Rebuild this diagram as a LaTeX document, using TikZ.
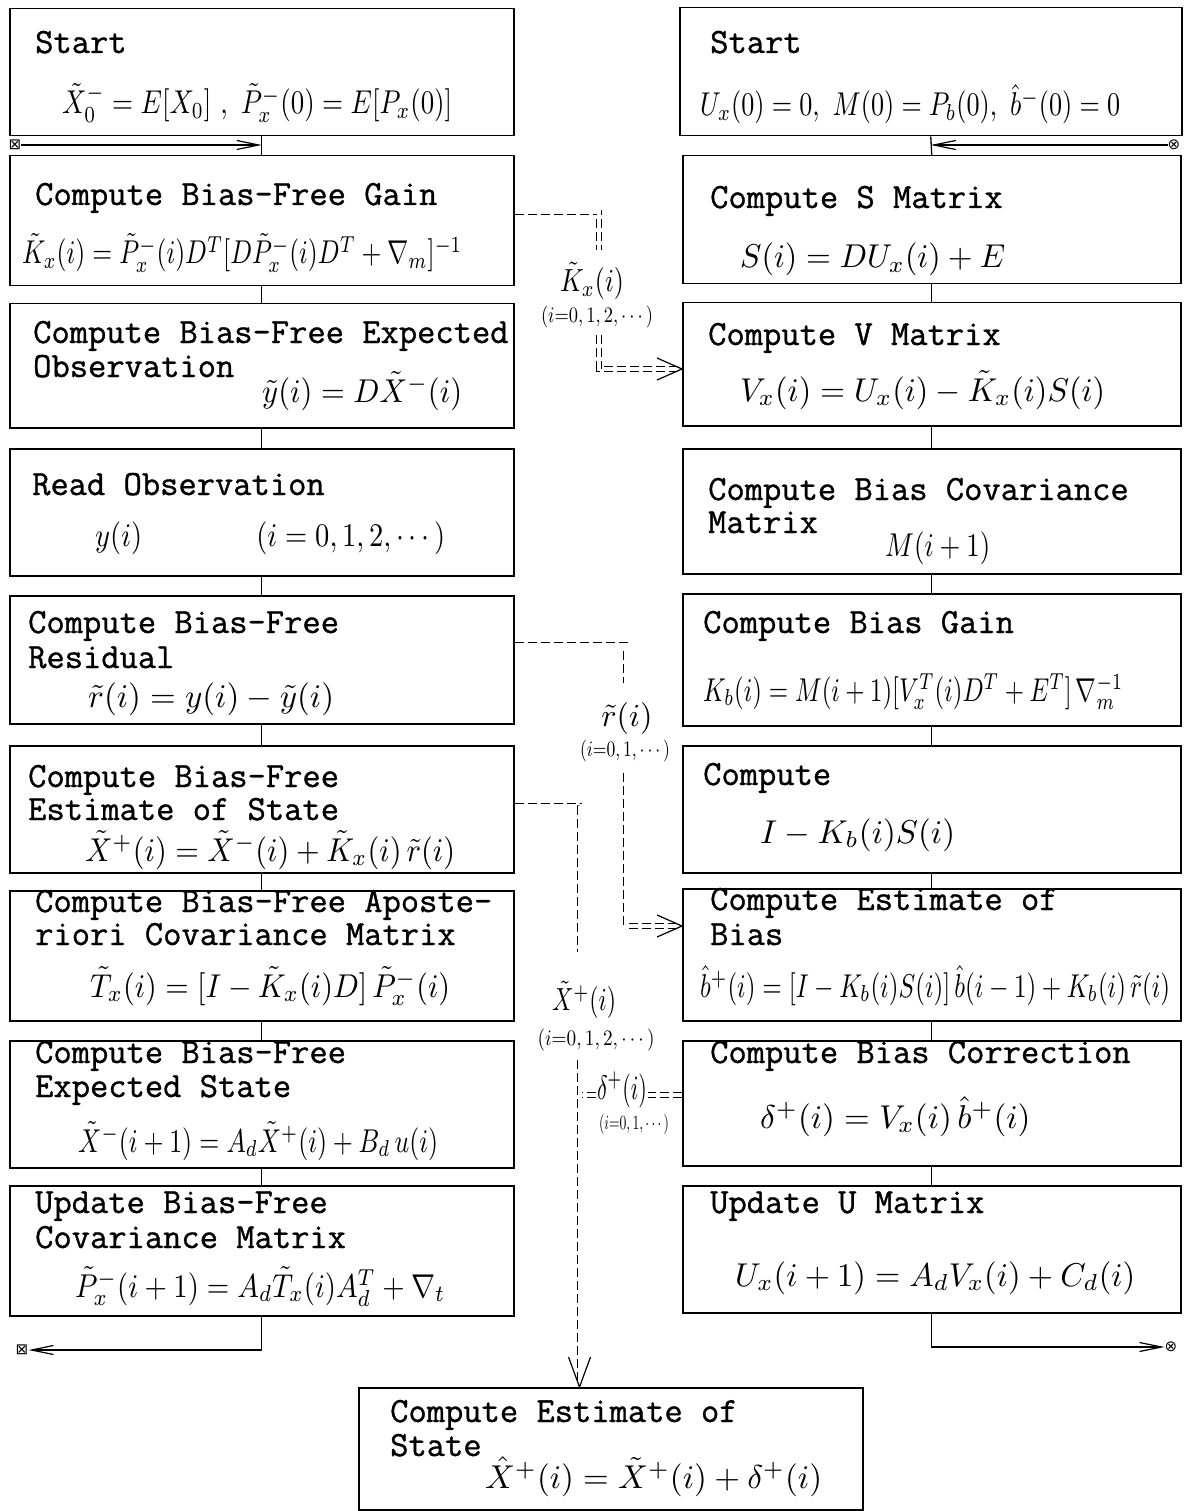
\documentclass[tikz,border=0pt]{standalone}
\usepackage{amsmath}
\usepackage{graphicx}
\usepackage{fontspec}
\newfontfamily\tw{Latin Modern Mono}[FakeBold=1]
\newfontfamily\djv{DejaVu Sans}
\usetikzlibrary{arrows.meta}
\newsavebox\fmbox
% #1 max width (pt), #2 vertical scale, #3 math
\newcommand\fm[3]{%
  \sbox\fmbox{$#3$}%
  \pgfmathsetmacro\fmsx{min(#2,#1/\the\wd\fmbox)}%
  \scalebox{\fmsx}[#2]{\usebox\fmbox}}
\newcommand\vs{3.3}
\tikzset{
 box/.style={draw, line width=1.5pt, anchor=north west, inner sep=0pt},
 ttl/.style={anchor=base west, inner sep=0pt, font=\tw\fontsize{35.5}{38}\selectfont},
 fml/.style={anchor=base west, inner sep=0pt},
 ln/.style={line width=1.3pt},
 sarrow/.style={-{Straight Barb[length=22pt,width=9pt,line width=1.2pt]}},
 dbl/.style={line width=0.8pt, double, double distance=4pt, dash pattern=on 9pt off 4pt},
 barb/.style={line width=1.2pt},
 lbl/.style={inner sep=1pt},
 sym/.style={inner sep=0pt, font=\djv\fontsize{15}{15}\selectfont},
}
\begin{document}
\begin{tikzpicture}[x=1pt,y=-1pt]
\useasboundingbox (0,0) rectangle (1183,1511);
% ---------- left column ----------
\node[box, minimum width=504pt, minimum height=127pt] (L1) at (9,8) {};
\node[box, minimum width=504pt, minimum height=130pt] (L2) at (9,155) {};
\node[box, minimum width=504pt, minimum height=124pt] (L3) at (9,303) {};
\node[box, minimum width=504pt, minimum height=127pt] (L4) at (9,448) {};
\node[box, minimum width=504pt, minimum height=128pt] (L5) at (9,595) {};
\node[box, minimum width=504pt, minimum height=127pt] (L6) at (9,745) {};
\node[box, minimum width=504pt, minimum height=130pt] (L7) at (9,890) {};
\node[box, minimum width=504pt, minimum height=127pt] (L8) at (9,1040) {};
\node[box, minimum width=504pt, minimum height=130pt] (L9) at (9,1185) {};
% ---------- right column ----------
\node[box, minimum width=502pt, minimum height=128pt] (R1) at (679,7) {};
\node[box, minimum width=498pt, minimum height=128pt] (R2) at (682,155) {};
\node[box, minimum width=498pt, minimum height=123pt] (R3) at (682,302) {};
\node[box, minimum width=498pt, minimum height=125pt] (R4) at (682,448) {};
\node[box, minimum width=498pt, minimum height=132pt] (R5) at (682,593) {};
\node[box, minimum width=498pt, minimum height=127pt] (R6) at (682,745) {};
\node[box, minimum width=498pt, minimum height=132pt] (R7) at (682,888) {};
\node[box, minimum width=498pt, minimum height=125pt] (R8) at (682,1040) {};
\node[box, minimum width=498pt, minimum height=127pt] (R9) at (682,1185) {};
% ---------- final box ----------
\node[box, minimum width=504pt, minimum height=122pt] (F) at (358,1387) {};

% ---------- texts left ----------
\node[ttl] (L1t) at (35,53) {Start};
\node[fml] (L1f) at (62,114) {\fm{390}{\vs}{\tilde{X}_0^- = E[X_0]\ ,\ \tilde{P}_x^-(0) = E[P_x(0)]}};
\node[ttl] (L2t) at (35,205) {Compute Bias-Free Gain};
\node[fml] (L2f) at (22,264) {\fm{440}{\vs}{\tilde{K}_x(i) = \tilde{P}_x^-(i)D^T[D\tilde{P}_x^-(i)D^T + \nabla_m]^{-1}}};
\node[ttl] (L3t) at (33,343) {Compute Bias-Free Expected};
\node[ttl] (L3u) at (33,377) {Observation};
\node[fml] (L3f) at (262,402) {\fm{200}{\vs}{\tilde{y}(i) = D\tilde{X}^-(i)}};
\node[ttl] (L4t) at (32,495) {Read Observation};
\node[fml] (L4f) at (95,546) {\fm{350}{\vs}{y(i)\hspace{40pt}(i = 0, 1, 2, \cdots)}};
\node[ttl] (L5t) at (28,633) {Compute Bias-Free};
\node[ttl] (L5u) at (28,668) {Residual};
\node[fml] (L5f) at (88,707) {\fm{270}{\vs}{\tilde{r}(i) = y(i) - \tilde{y}(i)}};
\node[ttl] (L6t) at (28,787) {Compute Bias-Free};
\node[ttl] (L6u) at (28,820) {Estimate of State};
\node[fml] (L6f) at (85,861) {\fm{370}{\vs}{\tilde{X}^+(i) = \tilde{X}^-(i) + \tilde{K}_x(i)\,\tilde{r}(i)}};
\node[ttl] (L7t) at (35,912) {Compute Bias-Free Aposte-};
\node[ttl] (L7u) at (35,945) {riori Covariance Matrix};
\node[fml] (L7f) at (90,997) {\fm{360}{\vs}{\tilde{T}_x(i) = [I - \tilde{K}_x(i)D]\,\tilde{P}_x^-(i)}};
\node[ttl] (L8t) at (35,1063) {Compute Bias-Free};
\node[ttl] (L8u) at (35,1097) {Expected State};
\node[fml] (L8f) at (78,1152) {\fm{360}{\vs}{\tilde{X}^-(i+1) = A_d\tilde{X}^+(i) + B_d\,u(i)}};
\node[ttl] (L9t) at (35,1213) {Update Bias-Free};
\node[ttl] (L9u) at (35,1248) {Covariance Matrix};
\node[fml] (L9f) at (75,1297) {\fm{370}{\vs}{\tilde{P}_x^-(i+1) = A_d\tilde{T}_x(i)A_d^T + \nabla_t}};

% ---------- texts right ----------
\node[ttl] (R1t) at (710,53) {Start};
\node[fml] (R1f) at (700,116) {\fm{420}{\vs}{U_x(0) = 0,\ M(0) = P_b(0),\ \hat{b}^-(0) = 0}};
\node[ttl] (R2t) at (710,208) {Compute S Matrix};
\node[fml] (R2f) at (740,268) {\fm{265}{\vs}{S(i) = DU_x(i) + E}};
\node[ttl] (R3t) at (708,345) {Compute V Matrix};
\node[fml] (R3f) at (740,401) {\fm{365}{\vs}{V_x(i) = U_x(i) - \tilde{K}_x(i)S(i)}};
\node[ttl] (R4t) at (708,500) {Compute Bias Covariance};
\node[ttl] (R4u) at (708,533) {Matrix};
\node[fml] (R4f) at (885,556) {\fm{105}{\vs}{M(i+1)}};
\node[ttl] (R5t) at (703,633) {Compute Bias Gain};
\node[fml] (R5f) at (703,701) {\fm{420}{\vs}{K_b(i) = M(i+1)[V_x^T(i)D^T + E^T]\,\nabla_m^{-1}}};
\node[ttl] (R6t) at (703,785) {Compute};
\node[fml] (R6f) at (760,843) {\fm{200}{\vs}{I - K_b(i)S(i)}};
\node[ttl] (R7t) at (710,910) {Compute Estimate of};
\node[ttl] (R7u) at (710,945) {Bias};
\node[fml] (R7f) at (700,997) {\fm{470}{\vs}{\hat{b}^+(i) = [I - K_b(i)S(i)]\,\hat{b}(i-1) + K_b(i)\,\tilde{r}(i)}};
\node[ttl] (R8t) at (710,1063) {Compute Bias Correction};
\node[fml] (R8f) at (760,1128) {\fm{290}{\vs}{\delta^+(i) = V_x(i)\,\hat{b}^+(i)}};
\node[ttl] (R9t) at (710,1213) {Update U Matrix};
\node[fml] (R9f) at (735,1286) {\fm{400}{\vs}{U_x(i+1) = A_dV_x(i) + C_d(i)}};
% ---------- final texts ----------
\node[ttl] (Ft) at (390,1422) {Compute Estimate of};
\node[ttl] (Fu) at (390,1456) {State};
\node[fml] (Ff) at (485,1488) {\fm{360}{\vs}{\hat{X}^+(i) = \tilde{X}^+(i) + \delta^+(i)}};

% ---------- solid flow ----------
\foreach \a/\b in {L1/L2,L2/L3,L3/L4,L4/L5,L5/L6,L6/L7,L7/L8,L8/L9,
                   R1/R2,R2/R3,R3/R4,R4/R5,R5/R6,R6/R7,R7/R8,R8/R9}
  \draw[ln] (\a.south) -- (\b.north);

\node[sym] (sqTL) at (15,145) {⊠};
\node[sym] (ciTR) at (1174,145) {⊗};
\node[sym] (sqBL) at (22,1350) {⊠};
\node[sym] (ciBR) at (1171,1347) {⊗};
\draw[ln, sarrow] (sqTL) -- (L1.south |- sqTL);
\draw[ln, sarrow] (ciTR) -- (R1.south |- ciTR);
\draw[ln, sarrow] (L9.south) |- (sqBL);
\draw[ln, sarrow] (R9.south) |- (ciBR);

% ---------- double dashed data flows ----------
% K_x
\node[lbl] (kl) at (592,281) {\fm{64}{3.2}{\tilde{K}_x(i)}};
\node[lbl] (kl2) at (597,317) {\fm{112}{2.2}{(i{=}0,1,2,\cdots)}};
\draw[dbl] (L2.east |- 0,212.5) -- (599,212.5) -- (599,250);
\draw[dbl] (599,335) -- (599,369) -- (680,369);
\draw[barb] (R3.west |- 0,369) ++(-25,-11) -- ++(25,11) -- ++(-25,11);
% r
\node[lbl] (rl) at (627,718) {\fm{56}{3.2}{\tilde{r}(i)}};
\node[lbl] (rl2) at (625,751) {\fm{90}{2.2}{(i{=}0,1,\cdots)}};
\draw[dbl] (L5.east |- 0,644.5) -- (625.5,644.5) -- (625.5,683);
\draw[dbl] (625.5,773) -- (625.5,926) -- (680,926);
\draw[barb] (R7.west |- 0,926) ++(-25,-11) -- ++(25,11) -- ++(-25,11);
% X+
\node[lbl] (xl) at (584,1000) {\fm{64}{3.2}{\tilde{X}^+(i)}};
\node[lbl] (xl2) at (596,1040) {\fm{117}{2.2}{(i{=}0,1,2,\cdots)}};
\draw[dbl] (L6.east |- 0,805.5) -- (579.5,805.5) -- (579.5,952);
\draw[dbl] (579.5,1060) -- (579.5,1385);
\draw[barb] (579.5,1387) ++(-11,-30) -- ++(11,30) -- ++(11,-30);
% delta
\node[lbl, fill=white, inner sep=1pt] (dl) at (622,1090) {\fm{50}{3.4}{\delta^+(i)}};
\node[lbl] (dl2) at (634,1124) {\fm{70}{2}{(i{=}0,1,\cdots)}};
\draw[dbl] (R8.west |- 0,1095) -- (dl.east |- 0,1095);
\draw[dbl] (dl.west |- 0,1095) -- (582,1095);
\end{tikzpicture}
\end{document}
